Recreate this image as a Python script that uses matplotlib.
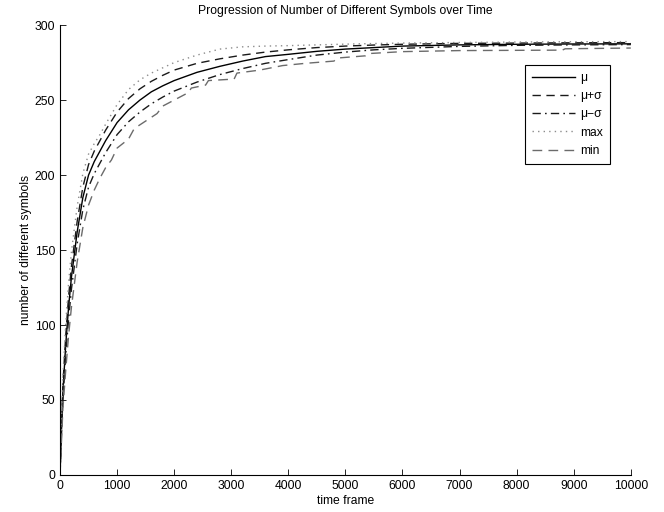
"""Progression of number of different symbols over time (mean, +/- sigma, max, min)."""
import matplotlib
matplotlib.use("Agg")
import matplotlib.pyplot as plt

plt.rcParams.update({"font.family": ["Liberation Sans", "DejaVu Sans"], "font.size": 8.7})

t = [0, 25, 50, 100, 150, 200, 300, 400, 500, 600, 700, 800, 1000, 1200, 1400, 1600,
     1800, 2000, 2400, 2800, 3200, 3600, 4000, 4500, 5000, 5500, 6000, 7000, 8000, 9000, 10000]
mu = [0, 30, 55, 87, 112, 132, 162, 185, 200, 209, 216, 223, 235, 243.5, 250, 255.5,
      259.5, 263, 268.5, 272.5, 276, 279, 280.5, 282.5, 284, 285, 286, 286.8, 287.2, 287.4, 287.5]
mu_plus = [0, 33, 60, 93, 119, 139, 169, 192, 207, 216, 223, 230, 242, 251, 257.5, 262.5,
           266.5, 270, 274.5, 277.5, 280, 282, 283.5, 285, 286, 286.7, 287.2, 287.8, 288, 288.2, 288.3]
mu_minus = [0, 27, 50, 80, 104, 124, 154, 177, 192, 201, 208, 215, 227, 235.5, 242, 247.5,
            252, 256, 262, 267, 271, 274.5, 277, 280, 282, 283.5, 284.5, 285.8, 286.5, 286.8, 287]
mx = [0, 36, 65, 101, 128, 149, 179, 201, 214, 221, 227, 234, 247, 257, 263.5, 268,
      271.5, 275, 280, 284, 285.5, 286, 286.3, 286.8, 287.3, 287.7, 288, 288.4, 288.7, 288.9, 289]

# min is a staircase, keep its own sample points
t_min = [0, 25, 50, 100, 150, 200, 300, 400, 500, 600, 700, 800, 900, 1000, 1200, 1300,
         1500, 1700, 1800, 2000, 2250, 2300, 2550, 2600, 3050, 3100, 3500, 3900, 4300,
         4800, 4850, 5350, 5400, 6000, 7000, 8800, 8850, 10000]
mn = [0, 22, 44, 70, 93, 112, 142, 165, 180, 190, 198, 205, 210, 218, 224, 231,
      236, 241, 246, 250, 255, 258, 260, 263, 264, 268, 270, 273, 274.5,
      276, 278, 279.5, 281, 282.3, 283, 283.3, 284.2, 284.7]

fig = plt.figure(figsize=(6.64, 5.12), dpi=100)
ax = fig.add_axes([0.0904, 0.0723, 0.8596, 0.8787])

ax.plot(t, mu, color="black", lw=1.0, label="μ")
ax.plot(t, mu_plus, color="0.1", lw=1.0, dashes=(6, 4), label="μ+σ")
ax.plot(t, mu_minus, color="0.1", lw=1.0, dashes=(6, 3, 1.2, 3), label="μ−σ")
ax.plot(t, mx, color="0.55", lw=1.0, dashes=(1, 3), label="max")
ax.plot(t_min, mn, color="0.42", lw=1.0, dashes=(7, 4.5), label="min")

ax.set_xlim(0, 10000)
ax.set_ylim(0, 300)
ax.set_xticks(range(0, 10001, 1000))
ax.set_yticks(range(0, 301, 50))
ax.tick_params(direction="in", length=4, width=0.6, colors="black", labelsize=8.7)
for s in ("top", "right"):
    ax.spines[s].set_visible(False)
for s in ("left", "bottom"):
    ax.spines[s].set_linewidth(0.8)

ax.set_xlabel("time frame", labelpad=2)
ax.set_ylabel("number of different symbols", labelpad=2)
ax.set_title("Progression of Number of Different Symbols over Time", fontsize=8.7, pad=8)

leg = ax.legend(loc="upper right", bbox_to_anchor=(0.963, 0.911), borderaxespad=0,
                fancybox=False, framealpha=1, edgecolor="black", handlelength=3.6,
                labelspacing=0.52, handletextpad=0.4, borderpad=0.55)
leg.get_frame().set_linewidth(0.8)

fig.savefig("out.png", dpi=100)
